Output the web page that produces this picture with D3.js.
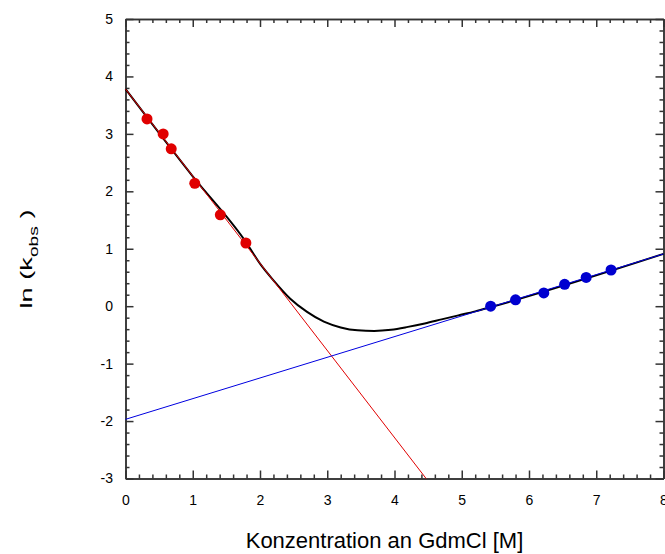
<!DOCTYPE html>
<html>
<head>
<meta charset="utf-8">
<script src="https://cdnjs.cloudflare.com/ajax/libs/d3/7.8.5/d3.min.js"></script>
<style>
  body { margin: 0; background: #fff; }
  text { font-family: Arial, "Liberation Sans", sans-serif; }
</style>
</head>
<body>
<script>
// measured points
var refoldX = [0.32, 0.56, 0.68, 1.03, 1.41, 1.79]
var refoldY = [3.26, 3.00, 2.74, 2.14, 1.59, 1.10]
var unfoldX = [5.43, 5.80, 6.22, 6.53, 6.85, 7.22]
var unfoldY = [0.00, 0.11, 0.23, 0.38, 0.50, 0.63]

// fitted lines (end points)
var refoldLine = [[0, 3.78], [4.47, -3]]
var unfoldLine = [[0, -1.97], [8, 0.91]]

// chevron fit curve
var fitX = [0, 1.0, 1.8, 2.0, 2.2, 2.45, 2.7, 2.95, 3.2, 3.45, 3.7, 3.95, 4.2, 4.45, 4.7, 4.95, 5.2, 5.45, 8]
var fitY = [3.78, 2.26, 1.10, 0.74, 0.45, 0.13, -0.10, -0.27, -0.37, -0.42, -0.43, -0.41, -0.36, -0.30, -0.23, -0.16, -0.09, -0.01, 0.91]

var xTicks = [0, 1, 2, 3, 4, 5, 6, 7, 8]
var yTicks = [-3, -2, -1, 0, 1, 2, 3, 4, 5]

var W = 665, H = 554
var svg = d3.select('body').append('svg').attr('width', W).attr('height', H)

var x = d3.scaleLinear().domain([0, 8]).range([125.5, 663.5])
var y = d3.scaleLinear().domain([-3, 5]).range([478.5, 19])

var xMinor = d3.range(0, 8.001, 0.2).filter(function(d){ return Math.abs(d - Math.round(d)) > 0.01 })
var yMinor = d3.range(-3, 5.001, 0.2).filter(function(d){ return Math.abs(d - Math.round(d)) > 0.01 })

function fmt(d){ return String(d) }  // plain hyphen minus, like the original

function styleAxis(g){
  g.selectAll('path, line').attr('stroke', '#333').attr('stroke-width', 1.5)
  g.selectAll('text').attr('font-size', 14).attr('fill', '#000')
}

// bottom
svg.append('g').attr('transform', 'translate(0,478.5)')
  .call(d3.axisBottom(x).tickValues(xTicks).tickSizeInner(-8).tickSizeOuter(0).tickPadding(16.5).tickFormat(fmt))
  .call(styleAxis)
svg.append('g').attr('transform', 'translate(0,478.5)')
  .call(d3.axisBottom(x).tickValues(xMinor).tickSizeInner(-4).tickSizeOuter(0).tickFormat(''))
  .call(styleAxis)
// top
svg.append('g').attr('transform', 'translate(0,19)')
  .call(d3.axisTop(x).tickValues(xTicks).tickSizeInner(-8).tickSizeOuter(0).tickFormat(''))
  .call(styleAxis)
svg.append('g').attr('transform', 'translate(0,19)')
  .call(d3.axisTop(x).tickValues(xMinor).tickSizeInner(-4).tickSizeOuter(0).tickFormat(''))
  .call(styleAxis)
// left
svg.append('g').attr('transform', 'translate(125.5,0)')
  .call(d3.axisLeft(y).tickValues(yTicks).tickSizeInner(-8).tickSizeOuter(0).tickPadding(12.5).tickFormat(fmt))
  .call(styleAxis)
svg.append('g').attr('transform', 'translate(125.5,0)')
  .call(d3.axisLeft(y).tickValues(yMinor).tickSizeInner(-4).tickSizeOuter(0).tickFormat(''))
  .call(styleAxis)
// right
svg.append('g').attr('transform', 'translate(663.5,0)')
  .call(d3.axisRight(y).tickValues(yTicks).tickSizeInner(-8).tickSizeOuter(0).tickFormat(''))
  .call(styleAxis)
svg.append('g').attr('transform', 'translate(663.5,0)')
  .call(d3.axisRight(y).tickValues(yMinor).tickSizeInner(-4).tickSizeOuter(0).tickFormat(''))
  .call(styleAxis)

var plot = svg.append('g')
var line = d3.line().x(function(d){ return x(d[0]) }).y(function(d){ return y(d[1]) })

plot.append('path')
  .datum(d3.zip(fitX, fitY))
  .attr('d', line.curve(d3.curveMonotoneX))
  .style('fill', 'none').style('stroke', '#000').style('stroke-width', 2)

line.curve(d3.curveLinear)
plot.append('path').datum(refoldLine).attr('d', line)
  .style('fill', 'none').style('stroke', '#e00000').style('stroke-width', 1)
plot.append('path').datum(unfoldLine).attr('d', line)
  .style('fill', 'none').style('stroke', '#0000e0').style('stroke-width', 1)

plot.append('g').selectAll('circle').data(d3.zip(refoldX, refoldY)).enter().append('circle')
  .attr('cx', function(d){ return x(d[0]) })
  .attr('cy', function(d){ return y(d[1]) })
  .attr('r', 5.5)
  .style('fill', '#e00000')

plot.append('g').selectAll('circle').data(d3.zip(unfoldX, unfoldY)).enter().append('circle')
  .attr('cx', function(d){ return x(d[0]) })
  .attr('cy', function(d){ return y(d[1]) })
  .attr('r', 5.5)
  .style('fill', '#0000d0')

// axis titles
svg.append('text')
  .attr('x', 384.5).attr('y', 548)
  .attr('text-anchor', 'middle')
  .attr('font-size', 22)
  .text('Konzentration an GdmCl [M]')

// the y title is drawn stretched along its length in the original
var yl = svg.append('text')
  .attr('transform', 'translate(32,259) rotate(-90) scale(1.6,1)')
  .attr('text-anchor', 'middle')
  .attr('font-size', 17)
yl.append('tspan').text('ln (k')
yl.append('tspan').attr('font-size', 12).attr('dy', 6).text('obs')
yl.append('tspan').attr('dy', -6).text(' )')
</script>
</body>
</html>
